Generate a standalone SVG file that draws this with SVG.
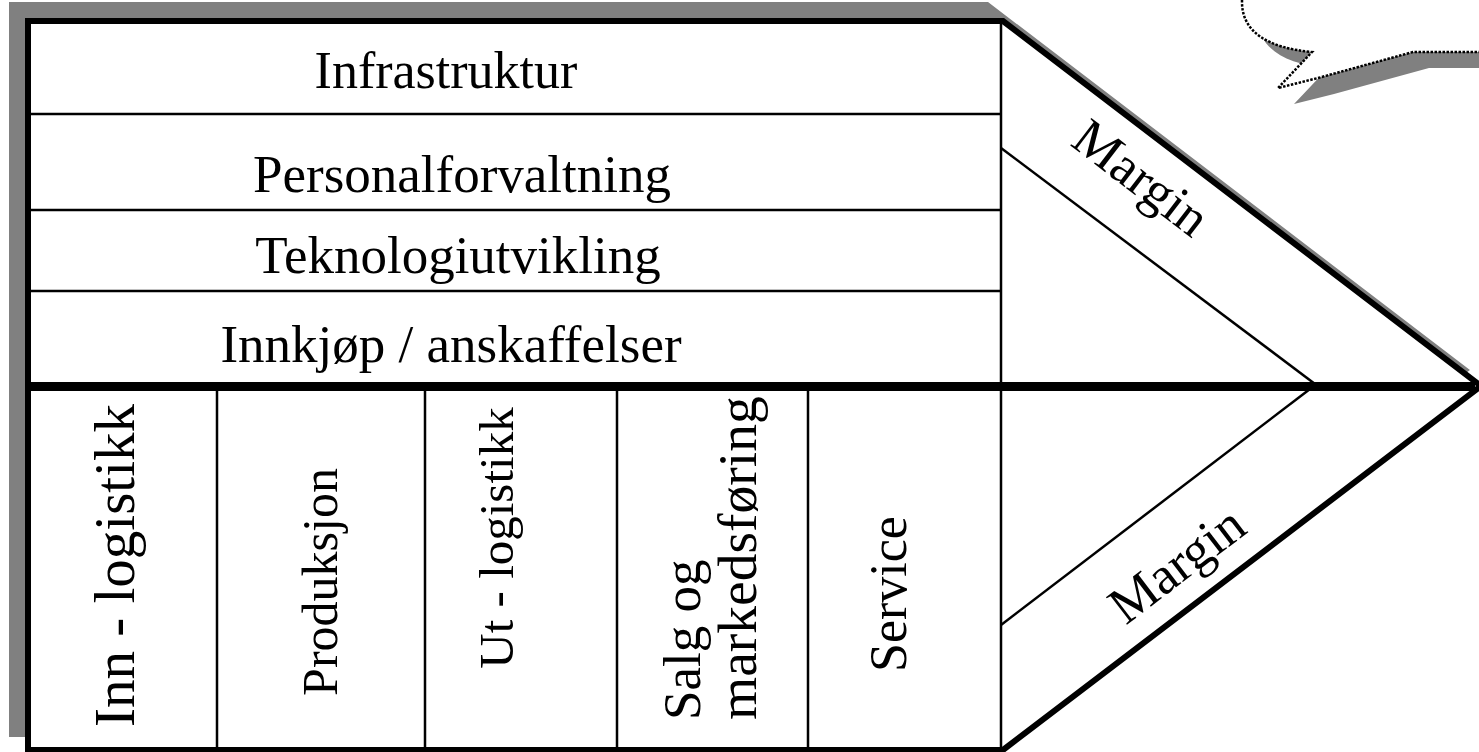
<svg xmlns="http://www.w3.org/2000/svg" width="1479" height="752" viewBox="0 0 1479 752">
<style>
.t{font-family:"Liberation Serif","Times New Roman",serif;font-size:53px;fill:#000}
.thin{stroke:#000;stroke-width:2.5;fill:none}
</style>
<rect x="0" y="0" width="1479" height="752" fill="#fff"/>
<g id="bubble">
<path d="M1242,-20 L1242,2 C1242,32 1268,48 1312,52 L1278,88 L1318,78 L1413,52 L1500,52 L1500,-20 Z" fill="#808080" transform="translate(16,16)"/>
<path d="M1242,-20 L1242,2 C1242,32 1268,48 1312,52 L1278,88 L1318,78 L1413,52 L1500,52 L1500,-20 Z" fill="#fff" stroke="#000" stroke-width="2.5" stroke-dasharray="2.5,1.5"/>
</g>
<g id="arrow-shape">
<polygon points="28,21 1003,21 1481,386 1003,750 28,750" fill="#808080" stroke="#808080" stroke-width="6" transform="translate(-16,-16)"/>
<polygon points="28,21 1003,21 1481,386 1003,750 28,750" fill="#fff" stroke="#000" stroke-width="6" stroke-linejoin="miter"/>
</g>
<g id="connectors">
<line class="thin" x1="28" y1="114" x2="1001" y2="114"/>
<line class="thin" x1="28" y1="210" x2="1001" y2="210"/>
<line class="thin" x1="28" y1="291" x2="1001" y2="291"/>
<line class="thin" x1="1001" y1="21" x2="1001" y2="750"/>
<line class="thin" x1="217" y1="386" x2="217" y2="750"/>
<line class="thin" x1="425" y1="386" x2="425" y2="750"/>
<line class="thin" x1="617" y1="386" x2="617" y2="750"/>
<line class="thin" x1="808" y1="386" x2="808" y2="750"/>
<line class="thin" x1="1001" y1="148" x2="1315" y2="384"/>
<line class="thin" x1="1310" y1="389" x2="1001" y2="625"/>
<line x1="28" y1="386.5" x2="1475" y2="386.5" stroke="#000" stroke-width="9"/>
</g>
<g id="infrastruktur"><text class="t" x="446" y="88" text-anchor="middle" style="font-size:52px">Infrastruktur</text></g>
<g id="personalforvaltning"><text class="t" x="462" y="192" text-anchor="middle">Personalforvaltning</text></g>
<g id="teknologiutvikling"><text class="t" x="458" y="273" text-anchor="middle">Teknologiutvikling</text></g>
<g id="innkjop"><text class="t" x="451" y="362" text-anchor="middle">Innkjøp / anskaffelser</text></g>
<g id="inn-logistikk"><text class="t" transform="translate(134,727) rotate(-90)" style="font-size:57px">Inn - logistikk</text></g>
<g id="produksjon"><text class="t" transform="translate(337,582) rotate(-90)" text-anchor="middle" style="font-size:50px">Produksjon</text></g>
<g id="ut-logistikk"><text class="t" transform="translate(513,538) rotate(-90)" text-anchor="middle" style="font-size:49px">Ut - logistikk</text></g>
<g id="salg"><text class="t" transform="translate(700,720) rotate(-90)">Salg og</text><text class="t" transform="translate(756,720) rotate(-90)" style="font-size:55.5px">markedsføring</text></g>
<g id="service"><text class="t" transform="translate(906,594) rotate(-90)" text-anchor="middle" style="font-size:52px">Service</text></g>
<g id="margin-top"><text class="t" transform="translate(1138,182) rotate(37.4)" text-anchor="middle" dominant-baseline="middle">Margin</text></g>
<g id="margin-bottom"><text class="t" transform="translate(1180,569) rotate(-37.4)" text-anchor="middle" dominant-baseline="middle">Margin</text></g>
</svg>
